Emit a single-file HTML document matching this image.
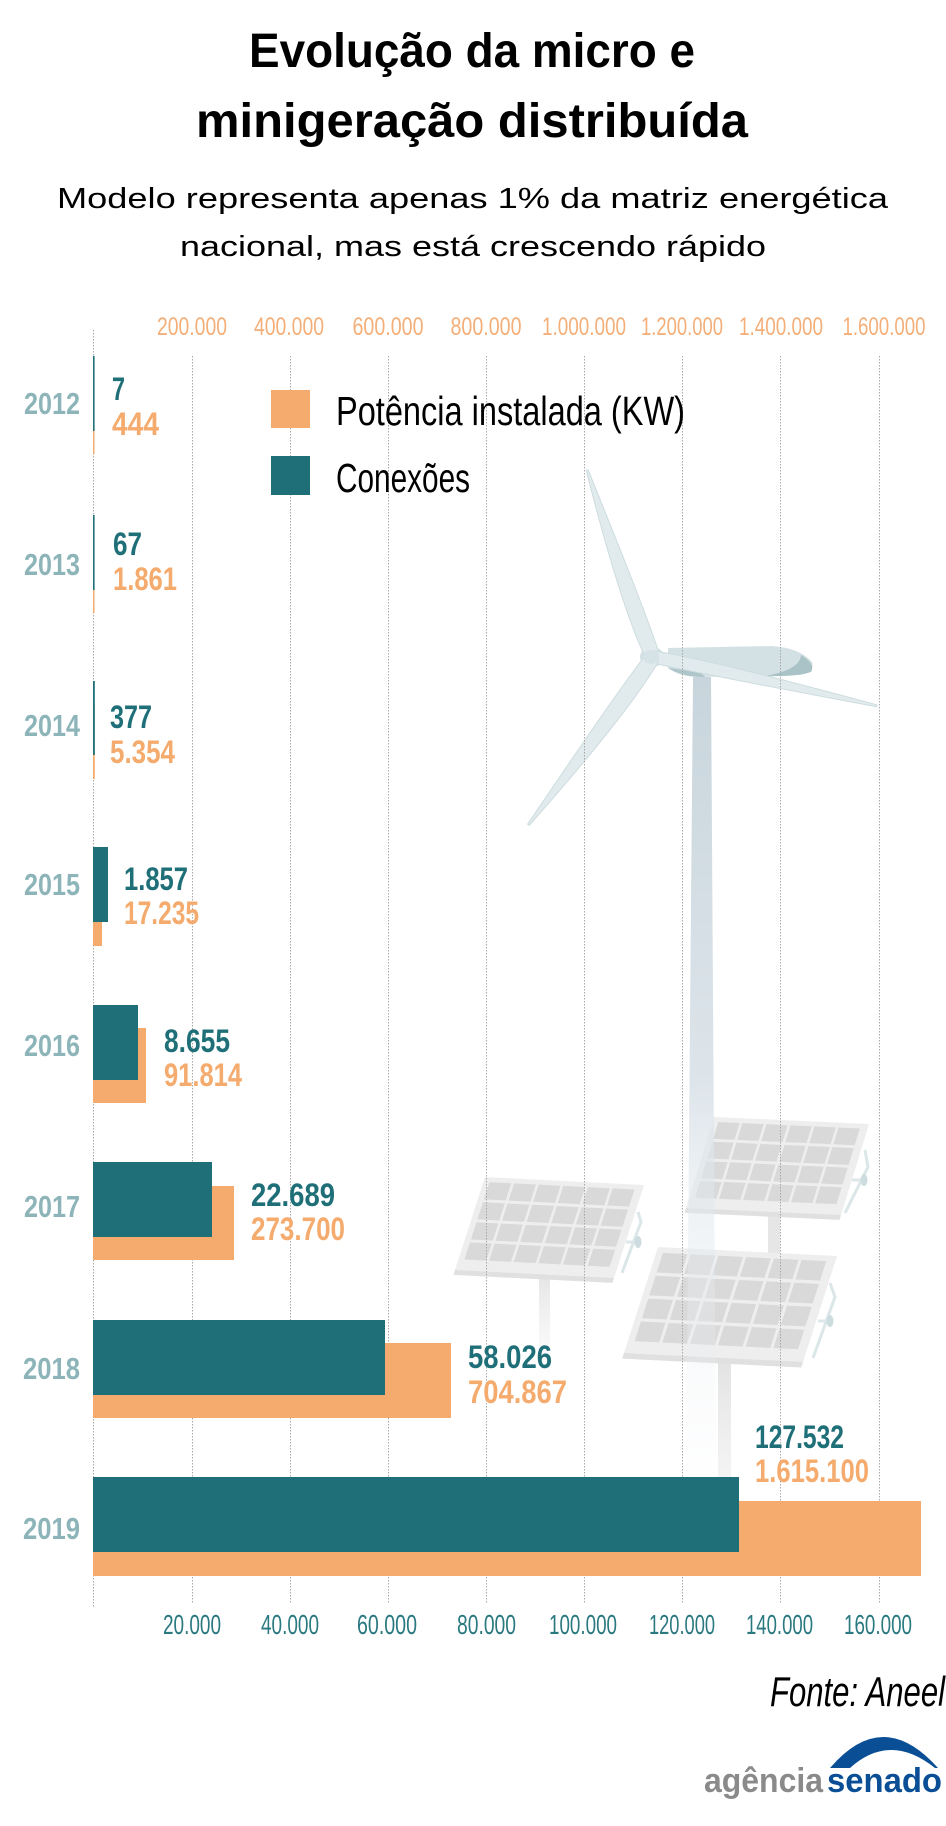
<!DOCTYPE html>
<html>
<head>
<meta charset="utf-8">
<style>
html,body{margin:0;padding:0;background:#fff;width:946px;height:1826px;overflow:hidden}
svg{display:block}
text{font-family:"Liberation Sans",sans-serif}
</style>
</head>
<body>
<svg width="946" height="1826" viewBox="0 0 946 1826" xmlns="http://www.w3.org/2000/svg">
<defs>
  <linearGradient id="towerG" gradientUnits="userSpaceOnUse" x1="0" y1="677" x2="0" y2="1480">
    <stop offset="0" stop-color="#c8d5dc" stop-opacity="1"/>
    <stop offset="0.5" stop-color="#dbe3e9" stop-opacity="0.95"/>
    <stop offset="0.62" stop-color="#dfe6eb" stop-opacity="0.6"/>
    <stop offset="1" stop-color="#eef2f5" stop-opacity="0.05"/>
  </linearGradient>
  <linearGradient id="poleA" x1="0" y1="0" x2="0" y2="1">
    <stop offset="0" stop-color="#e3e3e3" stop-opacity="1"/>
    <stop offset="1" stop-color="#f0f0f0" stop-opacity="0"/>
  </linearGradient>
  <linearGradient id="poleB" x1="0" y1="0" x2="0" y2="1">
    <stop offset="0" stop-color="#e2e2e2" stop-opacity="1"/>
    <stop offset="1" stop-color="#ececec" stop-opacity="0.6"/>
  </linearGradient>
  <g id="pnl">
    <rect x="0" y="94" width="160" height="6" fill="#e0e0e0"/>
    <rect x="0" y="0" width="160" height="95" fill="#eeeeee"/>
    <g fill="#d9d9d9">
      <rect x="6" y="5" width="22" height="17.5"/><rect x="30.8" y="5" width="22" height="17.5"/><rect x="55.6" y="5" width="22" height="17.5"/><rect x="80.4" y="5" width="22" height="17.5"/><rect x="105.2" y="5" width="22" height="17.5"/><rect x="130" y="5" width="22" height="17.5"/>
      <rect x="6" y="25.5" width="22" height="17.5"/><rect x="30.8" y="25.5" width="22" height="17.5"/><rect x="55.6" y="25.5" width="22" height="17.5"/><rect x="80.4" y="25.5" width="22" height="17.5"/><rect x="105.2" y="25.5" width="22" height="17.5"/><rect x="130" y="25.5" width="22" height="17.5"/>
      <rect x="6" y="46" width="22" height="17.5"/><rect x="30.8" y="46" width="22" height="17.5"/><rect x="55.6" y="46" width="22" height="17.5"/><rect x="80.4" y="46" width="22" height="17.5"/><rect x="105.2" y="46" width="22" height="17.5"/><rect x="130" y="46" width="22" height="17.5"/>
      <rect x="6" y="66.5" width="22" height="17.5"/><rect x="30.8" y="66.5" width="22" height="17.5"/><rect x="55.6" y="66.5" width="22" height="17.5"/><rect x="80.4" y="66.5" width="22" height="17.5"/><rect x="105.2" y="66.5" width="22" height="17.5"/><rect x="130" y="66.5" width="22" height="17.5"/>
    </g>
  </g>
</defs>

<!-- Title -->
<text x="249" y="67" font-size="48" font-weight="bold" fill="#000" textLength="446" lengthAdjust="spacingAndGlyphs">Evolução da micro e</text>
<text x="196" y="137" font-size="48" font-weight="bold" fill="#000" textLength="552" lengthAdjust="spacingAndGlyphs">minigeração distribuída</text>
<text x="57" y="208" font-size="29" fill="#000" textLength="831" lengthAdjust="spacingAndGlyphs">Modelo representa apenas 1% da matriz energética</text>
<text x="180" y="256" font-size="29" fill="#000" textLength="586" lengthAdjust="spacingAndGlyphs">nacional, mas está crescendo rápido</text>

<!-- Top ticks -->
<g font-size="25" fill="#f4ae78" text-anchor="middle">
  <text x="192" y="335" textLength="70" lengthAdjust="spacingAndGlyphs">200.000</text>
  <text x="289" y="335" textLength="70" lengthAdjust="spacingAndGlyphs">400.000</text>
  <text x="388" y="335" textLength="71" lengthAdjust="spacingAndGlyphs">600.000</text>
  <text x="486" y="335" textLength="71" lengthAdjust="spacingAndGlyphs">800.000</text>
  <text x="584" y="335" textLength="84" lengthAdjust="spacingAndGlyphs">1.000.000</text>
  <text x="682" y="335" textLength="82" lengthAdjust="spacingAndGlyphs">1.200.000</text>
  <text x="781" y="335" textLength="84" lengthAdjust="spacingAndGlyphs">1.400.000</text>
  <text x="884" y="335" textLength="83" lengthAdjust="spacingAndGlyphs">1.600.000</text>
</g>

<!-- Solar panels -->
<rect x="539" y="1270" width="11" height="115" fill="url(#poleA)"/>
<path d="M638 1212 L641 1222 L622 1273" fill="none" stroke="#dbe6e8" stroke-width="3"/>
<line x1="626" y1="1242" x2="636" y2="1242" stroke="#dde6e8" stroke-width="3"/>
<ellipse cx="638" cy="1242" rx="3.5" ry="6" fill="#cddcdf"/>
<use href="#pnl" transform="matrix(0.994 0.05 -0.316 0.979 485 1177)"/>

<rect x="768" y="1208" width="12" height="45" fill="#e6e6e6"/>
<path d="M865 1150 L868 1167 L845 1213" fill="none" stroke="#dbe6e8" stroke-width="3"/>
<line x1="852" y1="1180" x2="862" y2="1180" stroke="#dde6e8" stroke-width="3"/>
<ellipse cx="864" cy="1180" rx="3.5" ry="6" fill="#cddcdf"/>
<use href="#pnl" transform="matrix(0.969 0.044 -0.295 0.958 714 1117)"/>

<rect x="718" y="1355" width="13" height="122" fill="url(#poleB)"/>
<path d="M830 1283 L835 1297 L813 1358" fill="none" stroke="#dbe6e8" stroke-width="3"/>
<line x1="818" y1="1321" x2="828" y2="1321" stroke="#dde6e8" stroke-width="3"/>
<ellipse cx="830" cy="1321" rx="3.5" ry="6" fill="#cddcdf"/>
<use href="#pnl" transform="matrix(1.119 0.056 -0.358 1.116 658 1247)"/>

<!-- Wind turbine -->
<polygon points="693,677 711,677 716,1480 686,1480" fill="url(#towerG)"/>
<path d="M668 648 L772 646 Q800 648 812 662 Q815 673 800 675 L700 677 Q680 677 668 668 Z" fill="#d3e1e4"/>
<path d="M801 655 Q816 664 811 672 Q795 677 765 676 Q800 670 801 655 Z" fill="#a9c3c7"/>
<path d="M668 668 Q682 677 705 677 L700 672 Z" fill="#aec6ca"/>
<ellipse cx="652" cy="657" rx="12" ry="10" fill="#d3e1e4"/>
<g fill="#e1ebed" stroke="#cddcdf" stroke-width="1">
  <path transform="translate(653 657) rotate(-109.4)" d="M0 -7 C40 -12, 109 -9, 198 -1 L198 1 C109 5, 40 8, 0 7 Z"/>
  <path transform="translate(653 657) rotate(12.3)" d="M0 -6 C46 -9, 126 -6, 229 -1 L229 1 C126 4, 46 6, 0 6 Z"/>
  <path transform="translate(653 657) rotate(126.6)" d="M0 -7 C42 -12, 115 -9, 209 -1 L209 1 C115 5, 42 8, 0 7 Z"/>
</g>
<ellipse cx="651" cy="657" rx="8" ry="7" fill="#d6e3e6"/>

<!-- Gridlines -->
<g stroke="#a8a8a8" stroke-width="1" stroke-dasharray="1.5 1.5">
  <line x1="192.5" y1="356" x2="192.5" y2="1603"/>
  <line x1="290.5" y1="356" x2="290.5" y2="1603"/>
  <line x1="388.5" y1="356" x2="388.5" y2="1603"/>
  <line x1="486.5" y1="356" x2="486.5" y2="1603"/>
  <line x1="584.5" y1="356" x2="584.5" y2="1603"/>
  <line x1="682.5" y1="356" x2="682.5" y2="1603"/>
  <line x1="780.5" y1="356" x2="780.5" y2="1603"/>
  <line x1="879.5" y1="356" x2="879.5" y2="1603"/>
  <line x1="93.5" y1="330" x2="93.5" y2="1608"/>
</g>

<!-- Legend -->
<rect x="271" y="390" width="39" height="38" fill="#f4ab6d"/>
<rect x="271" y="456" width="39" height="39" fill="#1f6f78"/>
<text x="336" y="425" font-size="41" fill="#000" textLength="349" lengthAdjust="spacingAndGlyphs">Potência instalada (KW)</text>
<text x="336" y="492" font-size="41" fill="#000" textLength="134" lengthAdjust="spacingAndGlyphs">Conexões</text>

<!-- Bars -->
<g fill="#f4ab6d">
  <rect x="93" y="379" width="1.5" height="75"/>
  <rect x="93" y="538" width="1.5" height="75"/>
  <rect x="93" y="704" width="1.8" height="75"/>
  <rect x="93" y="870" width="9" height="76"/>
  <rect x="93" y="1028" width="53" height="75"/>
  <rect x="93" y="1186" width="141" height="74"/>
  <rect x="93" y="1343" width="358" height="75"/>
  <rect x="93" y="1501" width="828" height="75"/>
</g>
<g fill="#1f6f78">
  <rect x="93" y="356" width="1.6" height="75"/>
  <rect x="93" y="515" width="1.6" height="75"/>
  <rect x="93" y="681" width="1.8" height="74"/>
  <rect x="93" y="847" width="15" height="75"/>
  <rect x="93" y="1005" width="45" height="75"/>
  <rect x="93" y="1162" width="119" height="75"/>
  <rect x="93" y="1320" width="292" height="75"/>
  <rect x="93" y="1477" width="646" height="75"/>
</g>

<!-- Year labels -->
<g font-size="31" font-weight="bold" fill="#8db5b9">
  <text x="24" y="414" textLength="56" lengthAdjust="spacingAndGlyphs">2012</text>
  <text x="24" y="575" textLength="56" lengthAdjust="spacingAndGlyphs">2013</text>
  <text x="24" y="736" textLength="56" lengthAdjust="spacingAndGlyphs">2014</text>
  <text x="24" y="895" textLength="56" lengthAdjust="spacingAndGlyphs">2015</text>
  <text x="24" y="1056" textLength="56" lengthAdjust="spacingAndGlyphs">2016</text>
  <text x="24" y="1217" textLength="56" lengthAdjust="spacingAndGlyphs">2017</text>
  <text x="23" y="1379" textLength="57" lengthAdjust="spacingAndGlyphs">2018</text>
  <text x="23" y="1539" textLength="57" lengthAdjust="spacingAndGlyphs">2019</text>
</g>

<!-- Value labels -->
<g font-size="32" font-weight="bold" fill="#1f6f78">
  <text x="112" y="400" textLength="13" lengthAdjust="spacingAndGlyphs">7</text>
  <text x="113" y="555" textLength="29" lengthAdjust="spacingAndGlyphs">67</text>
  <text x="110" y="728" textLength="42" lengthAdjust="spacingAndGlyphs">377</text>
  <text x="124" y="890" textLength="64" lengthAdjust="spacingAndGlyphs">1.857</text>
  <text x="164" y="1052" textLength="66" lengthAdjust="spacingAndGlyphs">8.655</text>
  <text x="251" y="1206" textLength="84" lengthAdjust="spacingAndGlyphs">22.689</text>
  <text x="468" y="1368" textLength="84" lengthAdjust="spacingAndGlyphs">58.026</text>
  <text x="755" y="1448" textLength="89" lengthAdjust="spacingAndGlyphs">127.532</text>
</g>
<g font-size="32" font-weight="bold" fill="#f4ab6d">
  <text x="112" y="435" textLength="47" lengthAdjust="spacingAndGlyphs">444</text>
  <text x="113" y="590" textLength="64" lengthAdjust="spacingAndGlyphs">1.861</text>
  <text x="110" y="763" textLength="65" lengthAdjust="spacingAndGlyphs">5.354</text>
  <text x="124" y="924" textLength="75" lengthAdjust="spacingAndGlyphs">17.235</text>
  <text x="164" y="1086" textLength="78" lengthAdjust="spacingAndGlyphs">91.814</text>
  <text x="251" y="1240" textLength="94" lengthAdjust="spacingAndGlyphs">273.700</text>
  <text x="468" y="1403" textLength="99" lengthAdjust="spacingAndGlyphs">704.867</text>
  <text x="755" y="1482" textLength="114" lengthAdjust="spacingAndGlyphs">1.615.100</text>
</g>

<!-- Bottom ticks -->
<g font-size="28" fill="#2a7880" text-anchor="middle">
  <text x="192" y="1634" textLength="58" lengthAdjust="spacingAndGlyphs">20.000</text>
  <text x="290" y="1634" textLength="58" lengthAdjust="spacingAndGlyphs">40.000</text>
  <text x="387" y="1634" textLength="60" lengthAdjust="spacingAndGlyphs">60.000</text>
  <text x="486.5" y="1634" textLength="59" lengthAdjust="spacingAndGlyphs">80.000</text>
  <text x="583" y="1634" textLength="68" lengthAdjust="spacingAndGlyphs">100.000</text>
  <text x="682" y="1634" textLength="66" lengthAdjust="spacingAndGlyphs">120.000</text>
  <text x="779.5" y="1634" textLength="67" lengthAdjust="spacingAndGlyphs">140.000</text>
  <text x="878" y="1634" textLength="68" lengthAdjust="spacingAndGlyphs">160.000</text>
</g>

<!-- Source -->
<text x="770" y="1706" font-size="42" font-style="italic" fill="#000" textLength="175" lengthAdjust="spacingAndGlyphs">Fonte: Aneel</text>

<!-- Logo -->
<path d="M830 1768 Q883 1706 938 1768 L935 1768 Q890 1732 850 1768 Z" fill="#0a4f96"/>
<text x="704" y="1792" font-size="34" font-weight="bold" fill="#8a8a8a" textLength="119" lengthAdjust="spacingAndGlyphs">agência</text>
<text x="827" y="1792" font-size="34" font-weight="bold" fill="#0a4f96" textLength="115" lengthAdjust="spacingAndGlyphs">senado</text>
</svg>
</body>
</html>
